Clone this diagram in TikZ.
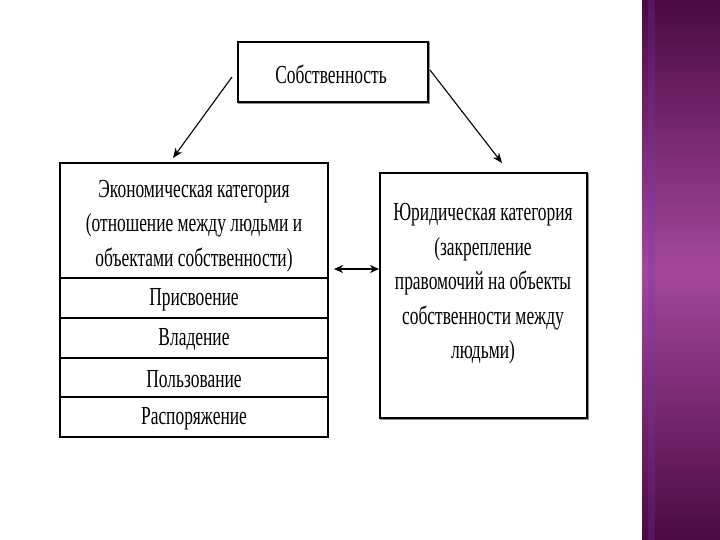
\documentclass[tikz,border=0pt]{standalone}
\usepackage{fontspec}
\setmainfont{Liberation Serif}[FakeStretch=0.67]
\usetikzlibrary{arrows.meta}
\definecolor{purpdark}{HTML}{4A0A42}
\definecolor{purplight}{HTML}{A4479C}
\begin{document}
\begin{tikzpicture}[x=1pt,y=-1pt,
  box/.style={draw=black,line width=1.2pt,fill=white,inner sep=0pt,outer sep=0pt},
  shadowbox/.style={draw=black!45,line width=1pt},
  txt/.style={align=center,inner sep=0pt,font=\fontsize{26}{34.5}\selectfont},
  arr/.style={-{Stealth[length=10pt,width=8pt]},line width=1.1pt},
  darr/.style={{Stealth[length=9pt,width=8pt]}-{Stealth[length=9pt,width=8pt]},line width=1.5pt}]
\fill[white] (0,0) rectangle (720,540);
\useasboundingbox (0,0) rectangle (720,540);
% decorative strip
\shade[top color=purpdark,bottom color=purpdark,middle color=purplight] (642,0) rectangle (720,540);
\fill[purplight!70!blue,opacity=0.25] (648,0) rectangle (655,540);
% top box
\node[box,minimum width=190pt,minimum height=60pt] (own) at (333,72) {};
\draw[shadowbox] ([xshift=1.5pt]own.north east) -- ([xshift=1.5pt,yshift=-1.5pt]own.south east) -- ([yshift=-1.5pt]own.south west);
\node[txt] (ownt) at (331,74) {Собственность};
% left stack
\node[box,minimum width=268pt,minimum height=115pt] (econ) at (194,220.5) {};
\node[txt] (econt) at (194,226) {Экономическая категория\\(отношение между людьми и\\объектами собственности)};
\node[box,minimum width=268pt,minimum height=40pt] (r1) at (194,298) {};
\node[txt] (r1t) at (194,300) {Присвоение};
\node[box,minimum width=268pt,minimum height=40pt] (r2) at (194,338) {};
\node[txt] (r2t) at (194,340) {Владение};
\node[box,minimum width=268pt,minimum height=39pt] (r3) at (194,377.5) {};
\node[txt] (r3t) at (194,379) {Пользование};
\node[box,minimum width=268pt,minimum height=40pt] (r4) at (194,417) {};
\node[txt] (r4t) at (194,419) {Распоряжение};
% right box
\node[box,minimum width=207pt,minimum height=245pt] (jur) at (483.5,295.5) {};
\draw[shadowbox] ([xshift=1.5pt]jur.north east) -- ([xshift=1.5pt,yshift=-1.5pt]jur.south east) -- ([yshift=-1.5pt]jur.south west);
\node[txt] (jurt) at (483,284) {Юридическая категория\\(закрепление\\правомочий на объекты\\собственности между\\людьми)};
% arrows
\coordinate (a1s) at (232,77);
\coordinate (a1e) at (173,158);
\coordinate (a2s) at (430,70);
\coordinate (a2e) at (502,163);
\coordinate (d1) at (334,269);
\coordinate (d2) at (379,269);
\draw[arr] (a1s) -- (a1e);
\draw[arr] (a2s) -- (a2e);
\draw[darr] (d1) -- (d2);
\end{tikzpicture}
\end{document}
